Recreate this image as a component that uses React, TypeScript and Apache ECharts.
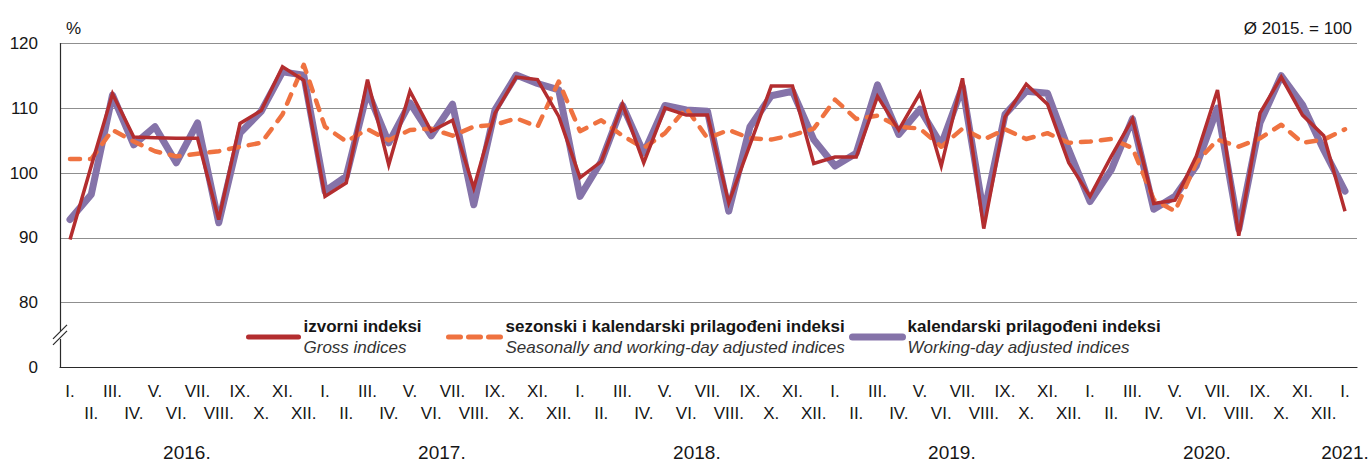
import React, { useEffect, useRef } from 'react';
import * as echarts from 'echarts';

const monthNames = ['I.', 'II.', 'III.', 'IV.', 'V.', 'VI.', 'VII.', 'VIII.', 'IX.', 'X.', 'XI.', 'XII.'];
const yearLabels = ['2016.', '2017.', '2018.', '2019.', '2020.', '2021.'];

const grossIndices = [
  89.6, 101, 112.2, 105.5, 105.4, 105.3, 105.3, 92.7, 107.6, 109.6, 116.4, 114.3,
  96.3, 98.4, 114.4, 101.2, 112.6, 106.4, 108.1, 97.6, 109.2, 114.8, 114.4, 108.7,
  99.2, 101.7, 110.6, 101.5, 110, 108.9, 108.9, 95.3, 104.3, 113.4, 113.4, 101.4,
  102.4, 102.4, 111.8, 106.6, 112.3, 101, 114.6, 91.3, 108.6, 113.7, 110.6, 101.5,
  96.3, 102.5, 108.3, 95.2, 95.7, 102.5, 112.8, 90.2, 109.2, 114.8, 108.9, 105.7,
  94,
];

const seasonallyAdjusted = [
  102.1, 102.1, 106.6, 104.8, 103.3, 102.5, 102.9, 103.3, 104, 104.6, 109, 116.7,
  107.1, 104.8, 106.7, 105, 106.6, 106.8, 105.7, 107.1, 107.4, 108.4, 107.1, 114.1,
  106.4, 108.1, 105.7, 103.8, 106.1, 110, 105.3, 106.6, 105.3, 105.1, 105.8, 106.8,
  111.3, 108.3, 108.8, 107.1, 106.8, 104, 106.8, 105.1, 106.7, 105.2, 106.1, 104.6,
  104.8, 105.2, 103.8, 95.8, 94, 101.5, 105.1, 104, 105.3, 107.4, 104.6, 105.1,
  106.7,
];

const workingDayAdjusted = [
  92.7, 96.6, 112, 104.3, 107.1, 101.5, 107.7, 92.2, 106.1, 109.5, 115.6, 115.1,
  97.1, 99.4, 112.6, 104.6, 110.8, 105.7, 110.6, 95, 109.7, 115.1, 113.8, 112.8,
  96.3, 101.7, 110.4, 103, 110.4, 109.7, 109.5, 94, 107.1, 111.9, 112.6, 105.1,
  101, 103, 113.6, 105.9, 109.8, 104.3, 113.3, 93.5, 109, 112.6, 112.3, 103.5,
  95.5, 100.4, 108.3, 94.3, 96.3, 101, 110, 91.2, 107.7, 115, 110.5, 103.5,
  97.1,
];

const yTicks = [70, 80, 90, 100, 110, 120];

const seriesNames = {
  gross: 'izvorni indeksi',
  seasonal: 'sezonski i kalendarski prilagođeni indeksi',
  working: 'kalendarski prilagođeni indeksi',
};
const seriesNamesEn = {
  gross: 'Gross indices',
  seasonal: 'Seasonally and working-day adjusted indices',
  working: 'Working-day adjusted indices',
};

const categories = grossIndices.map((_, i) => `${2016 + Math.floor(i / 12)}-${(i % 12) + 1}`);
const yearPositions = yearLabels.map((_, k) => (k < yearLabels.length - 1 ? k * 12 + 5.5 : k * 12));

const RED = '#b32d2f';
const ORANGE = '#ef7240';
const PURPLE = '#8573a9';
const FONT = "'Liberation Sans', Arial, sans-serif";
const TEXT = '#161616';

const hiddenSymbol = { color: 'rgba(0,0,0,0)', borderWidth: 0, opacity: 0 };

const legendText = (key: 'gross' | 'seasonal' | 'working') => ({
  formatter: () => `{a|${seriesNames[key]}}\n{b|${seriesNamesEn[key]}}`,
  textStyle: {
    rich: {
      a: { fontFamily: FONT, fontSize: 17, fontWeight: 'bold', color: TEXT, lineHeight: 21 },
      b: { fontFamily: FONT, fontSize: 17, fontStyle: 'italic', color: '#333', lineHeight: 21 },
    },
  },
});

export default function App() {
  const ref = useRef<HTMLDivElement>(null);

  useEffect(() => {
    if (!ref.current) return;
    const chart = echarts.init(ref.current, undefined, { renderer: 'svg' });
    const option: any = {
      animation: false,
      backgroundColor: '#ffffff',
      title: [
        { text: '%', left: 61, top: 15, textStyle: { fontFamily: FONT, fontSize: 17, fontWeight: 'normal', color: TEXT } },
        { text: 'Ø 2015. = 100', right: 15, top: 15, textStyle: { fontFamily: FONT, fontSize: 17, fontWeight: 'normal', color: TEXT } },
      ],
      grid: [
        { left: 70, right: 27, top: 43.5, bottom: 94.7 },
        { left: 60, right: 15, top: 43.5, bottom: 94.7 },
      ],
      legend: [
        {
          left: 241, top: 313, itemWidth: 50, itemHeight: 14,
          data: [{ name: seriesNames.gross, itemStyle: hiddenSymbol, lineStyle: { color: RED, width: 5, type: 'solid', cap: 'round' } }],
          ...legendText('gross'),
        },
        {
          left: 441, top: 313, itemWidth: 52, itemHeight: 14,
          data: [{ name: seriesNames.seasonal, itemStyle: hiddenSymbol, lineStyle: { color: ORANGE, width: 5, type: [12, 8], cap: 'round' } }],
          ...legendText('seasonal'),
        },
        {
          left: 844, top: 313, itemWidth: 50, itemHeight: 14,
          data: [{ name: seriesNames.working, itemStyle: hiddenSymbol, lineStyle: { color: PURPLE, width: 7, type: 'solid', cap: 'round' } }],
          ...legendText('working'),
        },
      ],
      xAxis: [
        {
          type: 'category',
          gridIndex: 0,
          data: categories,
          boundaryGap: false,
          axisLine: { show: false },
          axisTick: { show: false },
          splitLine: { show: false },
          axisLabel: {
            interval: 0,
            margin: 14,
            fontFamily: FONT,
            fontSize: 17,
            lineHeight: 22,
            color: TEXT,
            formatter: (_v: string, idx: number) => {
              const name = monthNames[idx % 12];
              return idx % 2 === 0 ? name : `\n${name}`;
            },
          },
        },
        {
          type: 'value',
          gridIndex: 0,
          min: 0,
          max: categories.length - 1,
          position: 'bottom',
          axisLine: { show: false },
          axisTick: { show: false },
          splitLine: { show: false },
          axisLabel: {
            customValues: yearPositions,
            margin: 77,
            fontFamily: FONT,
            fontSize: 19,
            lineHeight: 19,
            color: TEXT,
            formatter: (v: number) => {
              const k = yearPositions.indexOf(v);
              return k >= 0 ? yearLabels[k] : '';
            },
          },
        },
        {
          type: 'value',
          gridIndex: 1,
          min: 0,
          max: 1,
          axisLine: { show: true, lineStyle: { color: '#2a2a2a', width: 1.2 } },
          axisTick: { show: false },
          axisLabel: { show: false },
          splitLine: { show: false },
        },
      ],
      yAxis: [
        {
          type: 'value',
          gridIndex: 0,
          min: yTicks[0],
          max: yTicks[yTicks.length - 1],
          interval: 10,
          show: false,
          splitLine: { show: false },
        },
        {
          type: 'value',
          gridIndex: 1,
          min: yTicks[0],
          max: yTicks[yTicks.length - 1],
          interval: 10,
          axisLine: { show: true, lineStyle: { color: '#2a2a2a', width: 1.2 } },
          axisTick: { show: false },
          splitLine: { show: true, lineStyle: { color: '#8f8f8f', width: 1 } },
          axisLabel: {
            margin: 22,
            fontFamily: FONT,
            fontSize: 17,
            color: TEXT,
            formatter: (v: number) => (v === yTicks[0] ? '0' : String(v)),
          },
        },
      ],
      series: [
        {
          name: seriesNames.working,
          type: 'line',
          xAxisIndex: 0,
          yAxisIndex: 0,
          data: workingDayAdjusted,
          symbol: 'none',
          z: 2,
          lineStyle: { color: PURPLE, width: 7, cap: 'round', join: 'round' },
          itemStyle: { color: PURPLE },
        },
        {
          name: seriesNames.seasonal,
          type: 'line',
          xAxisIndex: 0,
          yAxisIndex: 0,
          data: seasonallyAdjusted,
          symbol: 'none',
          z: 3,
          lineStyle: { color: ORANGE, width: 4.5, type: [10, 10], cap: 'round', join: 'round' },
          itemStyle: { color: ORANGE },
        },
        {
          name: seriesNames.gross,
          type: 'line',
          xAxisIndex: 0,
          yAxisIndex: 0,
          data: grossIndices,
          symbol: 'none',
          z: 4,
          lineStyle: { color: RED, width: 3.5, join: 'miter' },
          itemStyle: { color: RED },
        },
      ],
    };
    chart.setOption(option);

    const yb = chart.convertToPixel({ yAxisIndex: 1 } as any, 75) as number;
    const xa = chart.convertToPixel({ xAxisIndex: 2 } as any, 0) as number;
    chart.setOption({
      graphic: [
        { type: 'rect', z: 100, shape: { x: xa - 3, y: yb - 4, width: 6, height: 8 }, style: { fill: '#ffffff' } },
        { type: 'line', z: 101, shape: { x1: xa - 7, y1: yb + 4, x2: xa + 7, y2: yb - 10 }, style: { stroke: '#2a2a2a', lineWidth: 1.2 } },
        { type: 'line', z: 101, shape: { x1: xa - 7, y1: yb + 10, x2: xa + 7, y2: yb - 4 }, style: { stroke: '#2a2a2a', lineWidth: 1.2 } },
      ],
    });

    return () => chart.dispose();
  }, []);

  return (
    <div
      ref={ref}
      style={{ position: 'fixed', left: 0, top: 0, width: 1372, height: 462, background: '#fff' }}
    />
  );
}
